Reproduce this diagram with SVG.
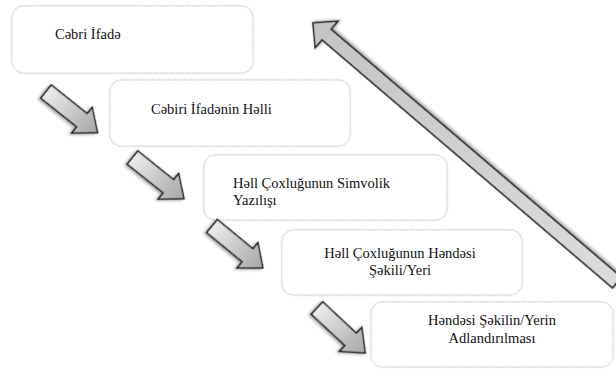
<svg xmlns="http://www.w3.org/2000/svg" width="616" height="370" viewBox="0 0 616 370">
<defs>
<style>
.box{fill:#ffffff;stroke:#c6c6c6;stroke-width:1;stroke-dasharray:1.5 0.8;filter:url(#bshadow)}
.arr{stroke:#1e1e1e;stroke-width:1.5;stroke-linejoin:miter;filter:url(#ashadow)}
</style>
<linearGradient id="gsmall" x1="0" y1="0" x2="1" y2="0">
<stop offset="0" stop-color="#ececec"/>
<stop offset="1" stop-color="#a6a6a6"/>
</linearGradient>
<linearGradient id="gbig" x1="0" y1="0" x2="1" y2="0">
<stop offset="0" stop-color="#dcdcdc"/>
<stop offset="1" stop-color="#c4c4c4"/>
</linearGradient>
<filter id="bshadow" x="-10%" y="-20%" width="120%" height="140%">
<feDropShadow dx="0" dy="0" stdDeviation="1.2" flood-color="#000" flood-opacity="0.15"/>
</filter>
<filter id="ashadow" x="-20%" y="-40%" width="140%" height="180%">
<feDropShadow dx="-1" dy="2" stdDeviation="1.8" flood-color="#000" flood-opacity="0.35"/>
</filter>
<path id="small" d="M0,-8.5 L46,-8.5 L46,-16.5 L66,0 L46,16.5 L46,8.5 L0,8.5 Z"/>
</defs>

<g font-family="Liberation Serif, DejaVu Serif, serif" font-size="14.5" fill="#111111">
<g id="node1">
<rect class="box" x="12" y="6" width="241" height="67" rx="12"/>
<text x="55" y="39">Cəbri İfadə</text>
</g>
<g id="node2">
<rect class="box" x="110" y="80" width="240" height="66" rx="12"/>
<text x="151" y="114">Cəbiri İfadənin Həlli</text>
</g>
<g id="node3">
<rect class="box" x="204" y="155" width="243" height="65" rx="12"/>
<text x="233" y="188">Həll Çoxluğunun Simvolik</text>
<text x="233" y="205">Yazılışı</text>
</g>
<g id="node4">
<rect class="box" x="282" y="230" width="240" height="65" rx="12"/>
<text x="400" y="258" text-anchor="middle">Həll Çoxluğunun Həndəsi</text>
<text x="400" y="275" text-anchor="middle">Şəkili/Yeri</text>
</g>
<g id="node5">
<rect class="box" x="371" y="302" width="242" height="65" rx="12"/>
<text x="492" y="325" text-anchor="middle">Həndəsi Şəkilin/Yerin</text>
<text x="492" y="343" text-anchor="middle">Adlandırılması</text>
</g>
</g>

<g id="connectors">
<use href="#small" class="arr" fill="url(#gsmall)" transform="translate(46,91.5) rotate(38.6)"/>
<use href="#small" class="arr" fill="url(#gsmall)" transform="translate(132.5,157.5) rotate(38.7)"/>
<use href="#small" class="arr" fill="url(#gsmall)" transform="translate(212,226) rotate(39.5)"/>
<use href="#small" class="arr" fill="url(#gsmall)" transform="translate(317,308) rotate(43)"/>
<path class="arr" fill="url(#gbig)" transform="translate(617,282.6) rotate(-139.5)" d="M0,-7 L382,-7 L382,-17.5 L400,0 L382,17.5 L382,7 L0,7 Z"/>
</g>
</svg>
